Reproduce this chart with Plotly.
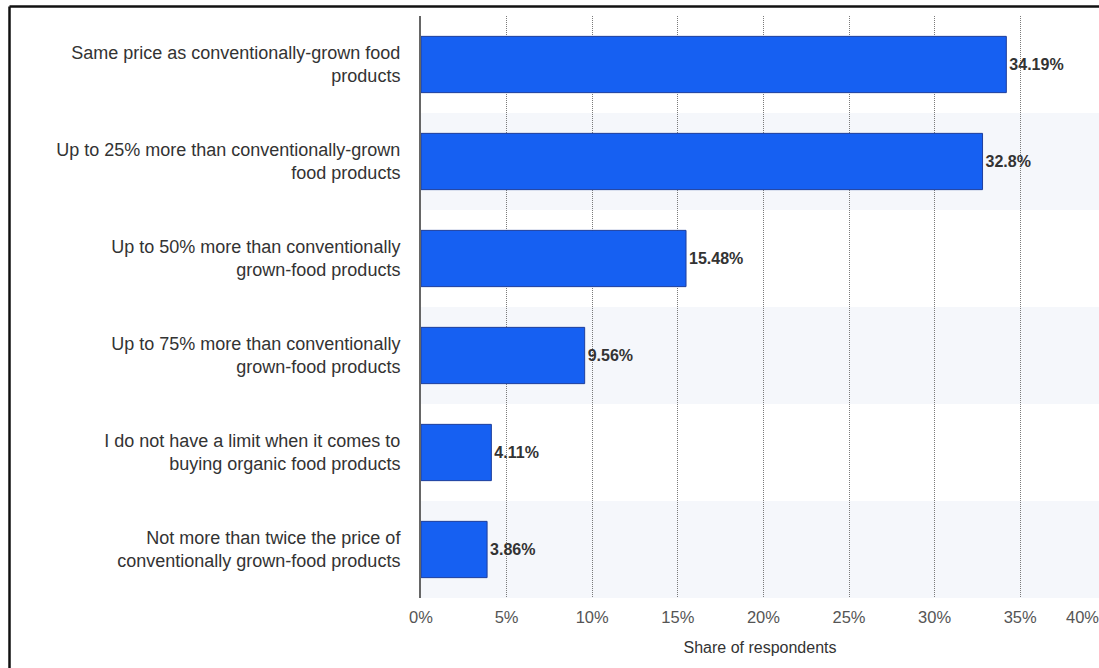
import plotly.graph_objects as go

categories = [
    "Same price as conventionally-grown food<br>products",
    "Up to 25% more than conventionally-grown<br>food products",
    "Up to 50% more than conventionally<br>grown-food products",
    "Up to 75% more than conventionally<br>grown-food products",
    "I do not have a limit when it comes to<br>buying organic food products",
    "Not more than twice the price of<br>conventionally grown-food products",
]
values = [34.19, 32.8, 15.48, 9.56, 4.11, 3.86]
value_labels = ["34.19%", "32.8%", "15.48%", "9.56%", "4.11%", "3.86%"]
tick_vals = [0, 5, 10, 15, 20, 25, 30, 35]
tick_text = ["0%", "5%", "10%", "15%", "20%", "25%", "30%", "35%"]

W, H = 1099, 668
L, R, T, B = 421, 0, 16, 70
plot_w = W - L - R
plot_h = H - T - B
px_per_pct = 17.12
xmax = plot_w / px_per_pct

FONT = "Liberation Sans, Arial, sans-serif"

fig = go.Figure()
fig.add_trace(go.Bar(
    x=values, y=categories, orientation="h",
    marker=dict(color="#1660f2", line=dict(color="#1f3f9c", width=1)),
    width=0.58,
    text=value_labels, textposition="outside",
    textfont=dict(family=FONT, size=16, color="#333333"),
    texttemplate="<b>%{text}</b>",
    cliponaxis=False,
))

shapes = []
for i in range(len(categories)):
    if i % 2 == 1:
        shapes.append(dict(type="rect", xref="paper", yref="y", x0=0, x1=1,
                           y0=i - 0.5, y1=i + 0.5, fillcolor="#f5f7fb",
                           line=dict(width=0), layer="below"))
# frame border (left and top)
bx = (9.5 - L) / plot_w
by = 1 + (T - 6.5) / plot_h
shapes.append(dict(type="line", xref="paper", yref="paper", x0=bx, x1=bx, y0=-1, y1=by,
                   line=dict(color="#111111", width=2.5), layer="above"))
shapes.append(dict(type="line", xref="paper", yref="paper", x0=bx, x1=2, y0=by, y1=by,
                   line=dict(color="#111111", width=2.5), layer="above"))

fig.update_layout(
    width=W, height=H,
    margin=dict(l=L, r=R, t=T, b=B, pad=0),
    paper_bgcolor="white", plot_bgcolor="white",
    font=dict(family=FONT, size=13, color="#333333"),
    showlegend=False,
    shapes=shapes,
    xaxis=dict(
        range=[0, xmax], tickvals=tick_vals, ticktext=tick_text,
        showgrid=True, gridcolor="#7a7a7a", griddash="1px,1px", gridwidth=1,
        zeroline=False, showline=False, ticks="",
        ticklabelstandoff=7,
        tickfont=dict(size=16.5, color="#555555"),
        title=dict(text="Share of respondents", font=dict(size=16, color="#333333"), standoff=17),
    ),
    yaxis=dict(
        autorange="reversed", showgrid=False, zeroline=False,
        showline=True, linecolor="#666666", linewidth=2, ticks="",
        ticklabelstandoff=15,
        tickfont=dict(size=18, color="#333333"),
    ),
    annotations=[dict(text="40%", xref="paper", yref="paper", x=1.0, y=0, xanchor="center",
                      yanchor="middle", yshift=-19, xshift=-17, showarrow=False,
                      font=dict(family=FONT, size=16.5, color="#555555"))],
)

fig.write_html(
    "out.html",
    config={"displayModeBar": False},
    post_script="document.body.style.margin='0';document.body.style.overflow='hidden';",
)
